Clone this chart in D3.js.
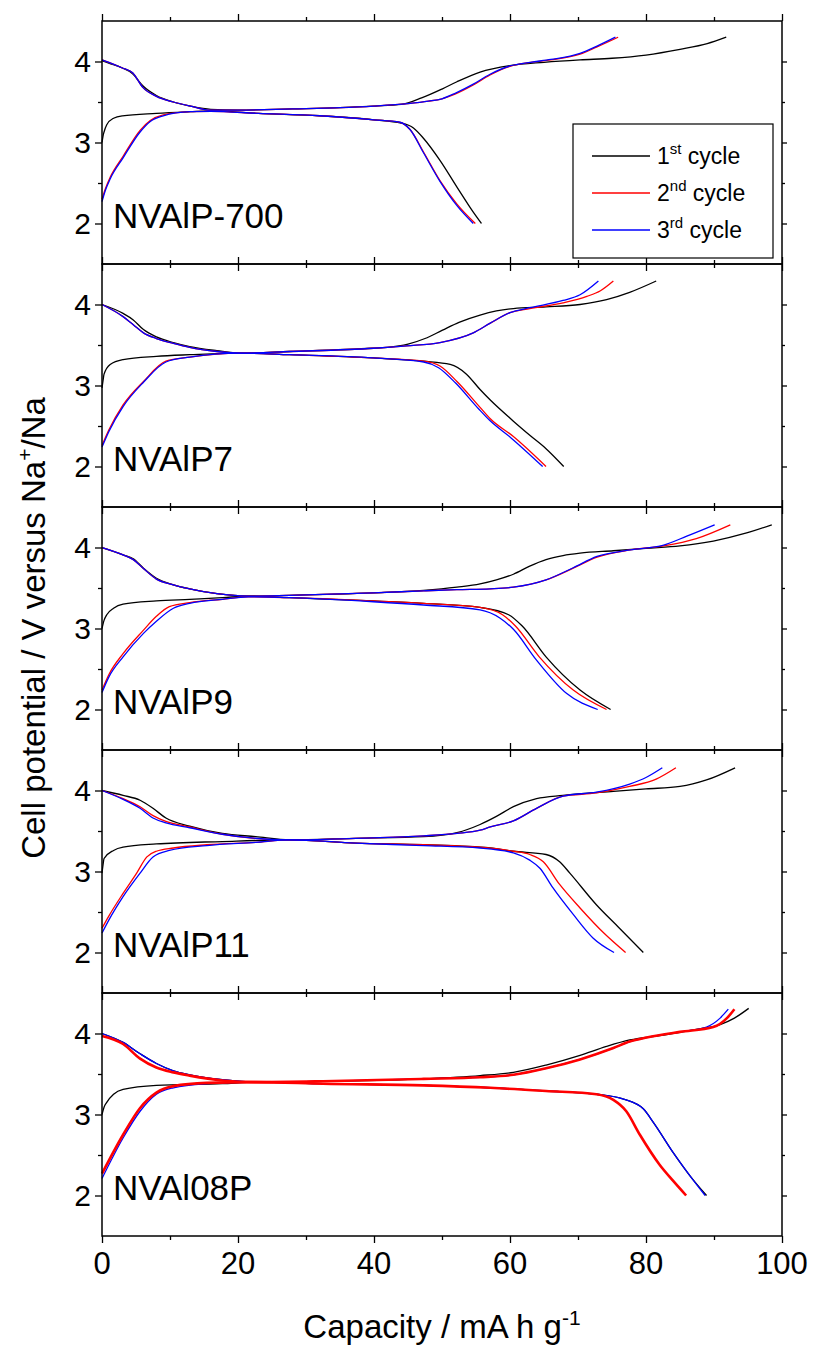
<!DOCTYPE html>
<html><head><meta charset="utf-8">
<script src="https://cdn.jsdelivr.net/npm/d3@7"></script>
<style>body{margin:0;background:#fff}svg{display:block}text{font-family:"Liberation Sans",Arial,sans-serif;fill:#000}</style>
</head><body><svg id="c" width="816" height="1347"></svg>
<script>
// ---------- data ----------
const panelNames = ["NVAlP-700","NVAlP7","NVAlP9","NVAlP11","NVAl08P"];
const cycleLabels = [["1","st"],["2","nd"],["3","rd"]];
const cycleColors = ["#000000","#ff0000","#0000ff"];
const xTicks = [0,20,40,60,80,100];
const xMinor = [10,30,50,70,90];
const yTicks = [2,3,4];
const yMinor = [2.5,3.5];

// NVAlP-700
const p1_c1_charge = [[0,4.01],[1,3.98],[3,3.92],[4.5,3.85],[6,3.70],[8,3.58],[10.5,3.50],[13,3.45],[16,3.41],[20,3.40],[28,3.415],[35,3.43],[40,3.45],[44,3.47],[47,3.55],[50,3.66],[52.2,3.75],[55.6,3.87],[60,3.95],[65,3.99],[70.3,4.02],[75,4.04],[80,4.08],[85,4.15],[89,4.22],[91.8,4.30]];
const p1_c2_charge = [[0,4.02],[1,3.99],[3,3.92],[4.5,3.86],[6,3.68],[8,3.57],[10.5,3.50],[13,3.45],[16,3.40],[20,3.40],[28,3.415],[35,3.43],[40,3.45],[45,3.48],[48,3.51],[50,3.54],[52,3.60],[54.6,3.71],[57,3.83],[60,3.94],[63,3.99],[66,4.02],[70.3,4.09],[72.8,4.18],[75.9,4.30]];
const p1_c3_charge = [[0,4.02],[1,3.99],[3,3.92],[4.5,3.86],[6,3.68],[8,3.57],[10.5,3.50],[13,3.45],[16,3.40],[20,3.40],[28,3.415],[35,3.43],[40,3.45],[45,3.48],[48,3.51],[50,3.54],[52,3.61],[54.6,3.72],[57,3.84],[60,3.945],[63,3.99],[66,4.025],[70.3,4.10],[72.8,4.19],[75.5,4.30]];
const p1_c1_discharge = [[0,3.0],[0.15,3.08],[0.3,3.13],[0.7,3.22],[1.7,3.30],[3,3.33],[8,3.36],[13,3.38],[16,3.39],[23,3.36],[32,3.33],[40,3.28],[44,3.24],[45.8,3.18],[47.3,3.05],[49.7,2.78],[52.2,2.45],[54.6,2.14],[55.8,2.0]];
const p1_c2_discharge = [[0,2.30],[0.5,2.43],[1.2,2.57],[3.1,2.83],[5.6,3.15],[7.1,3.27],[9,3.34],[13,3.38],[16,3.385],[23,3.36],[32,3.33],[40,3.28],[43.8,3.25],[45.3,3.16],[47.3,2.88],[49.7,2.53],[52.2,2.24],[54.9,2.0]];
const p1_c3_discharge = [[0,2.27],[0.5,2.41],[1.2,2.55],[3.1,2.81],[5.6,3.13],[7.1,3.26],[9,3.33],[13,3.38],[16,3.385],[23,3.36],[32,3.33],[40,3.28],[43.8,3.25],[45.3,3.16],[47.3,2.87],[49.7,2.52],[52.2,2.22],[54.6,2.0]];

// NVAlP7
const p2_c1_charge = [[0,4.0],[3.1,3.89],[4.6,3.81],[6.1,3.69],[8,3.60],[10.5,3.53],[12.9,3.48],[16.9,3.43],[20.3,3.40],[27.6,3.42],[39.9,3.46],[42,3.47],[45,3.51],[47.5,3.58],[50,3.68],[52.5,3.78],[55.6,3.87],[58,3.92],[60.5,3.95],[65.3,3.97],[70.3,4.0],[74.2,4.06],[77.6,4.15],[81.5,4.29]];
const p2_c2_charge = [[0,4.0],[3.1,3.85],[4.6,3.75],[6.1,3.65],[8,3.58],[10.5,3.52],[12.9,3.47],[16.9,3.42],[20.3,3.40],[27.6,3.42],[39.9,3.46],[44.8,3.49],[49.7,3.53],[54.6,3.65],[57.1,3.77],[60,3.90],[62.9,3.95],[67.8,4.02],[71.3,4.10],[73.3,4.17],[75.2,4.29]];
const p2_c3_charge = [[0,4.0],[3.1,3.85],[4.6,3.75],[6.1,3.65],[8,3.58],[10.5,3.52],[12.9,3.47],[16.9,3.42],[20.3,3.40],[27.6,3.42],[39.9,3.46],[44.8,3.49],[49.7,3.53],[54.6,3.65],[57.1,3.77],[60,3.90],[62.9,3.96],[67.8,4.05],[70.3,4.12],[73.0,4.29]];
const p2_c1_discharge = [[0,2.97],[0.15,3.06],[0.3,3.14],[1.2,3.26],[3.1,3.32],[8,3.36],[12.9,3.38],[20.3,3.40],[27.6,3.38],[39.9,3.34],[47.3,3.30],[51.2,3.26],[53.6,3.14],[55.6,2.95],[57.1,2.82],[60.5,2.56],[63,2.38],[65.3,2.22],[67.9,2.0]];
const p2_c2_discharge = [[0,2.26],[1,2.45],[3.1,2.76],[6.1,3.05],[9.4,3.30],[12.9,3.35],[20.3,3.40],[27.6,3.38],[39.9,3.34],[47.3,3.30],[49.7,3.24],[52.2,3.05],[55.6,2.73],[57.1,2.59],[60.5,2.37],[65.3,2.0]];
const p2_c3_discharge = [[0,2.24],[1,2.43],[3.1,2.74],[6.1,3.04],[9.4,3.29],[12.9,3.35],[20.3,3.40],[27.6,3.38],[39.9,3.34],[47.3,3.29],[49.5,3.22],[52,3.03],[55.4,2.71],[57,2.57],[60.2,2.35],[64.8,2.0]];

// NVAlP9
const p3_c1_charge = [[0,4.0],[3.1,3.91],[4.6,3.86],[6.1,3.745],[8,3.62],[10.5,3.54],[12.9,3.49],[16.9,3.43],[21.5,3.40],[27.6,3.41],[39.9,3.44],[47.3,3.47],[52.2,3.51],[55.6,3.55],[58,3.60],[60.5,3.67],[62.9,3.77],[65.3,3.85],[67.8,3.90],[70.3,3.93],[75.2,3.96],[80,3.99],[85,4.02],[89.9,4.08],[94.8,4.18],[98.5,4.28]];
const p3_c2_charge = [[0,4.0],[3.1,3.91],[4.6,3.85],[6.1,3.74],[8,3.61],[10.5,3.54],[12.9,3.49],[16.9,3.43],[21.5,3.40],[27.6,3.41],[39.9,3.44],[47.3,3.465],[52.2,3.48],[57.1,3.49],[60.5,3.51],[65.3,3.60],[69.3,3.745],[72.8,3.88],[77.7,3.97],[82.6,4.02],[87.4,4.11],[92.4,4.28]];
const p3_c3_charge = [[0,4.0],[3.1,3.91],[4.6,3.85],[6.1,3.74],[8,3.61],[10.5,3.54],[12.9,3.49],[16.9,3.43],[21.5,3.40],[27.6,3.41],[39.9,3.44],[47.3,3.465],[52.2,3.48],[57.1,3.49],[60.5,3.51],[65.3,3.60],[69.3,3.75],[72.8,3.89],[77.7,3.97],[82.6,4.03],[86,4.14],[90.1,4.28]];
const p3_c1_discharge = [[0,3.0],[0.3,3.10],[0.7,3.17],[1.7,3.25],[3.1,3.30],[8,3.34],[12.9,3.36],[17.7,3.38],[21.5,3.40],[27.6,3.38],[39.9,3.34],[47.3,3.31],[55.6,3.26],[59.8,3.17],[61.8,3.03],[65.3,2.65],[70.3,2.24],[74.8,2.0]];
const p3_c2_discharge = [[0,2.24],[1,2.43],[3.1,2.69],[6.1,2.98],[8,3.15],[9.9,3.27],[12.9,3.32],[17.7,3.36],[21.5,3.39],[27.6,3.38],[39.9,3.34],[47.3,3.31],[55.6,3.26],[58.9,3.17],[60.8,3.03],[64.3,2.65],[69.3,2.24],[74.2,2.0]];
const p3_c3_discharge = [[0,2.21],[1,2.40],[3.1,2.65],[6.1,2.94],[8,3.09],[10.5,3.25],[12.9,3.31],[17.7,3.36],[21.5,3.39],[27.6,3.38],[39.9,3.33],[47.3,3.29],[55.6,3.23],[58.5,3.13],[60.5,2.99],[63.9,2.61],[68.3,2.20],[72.9,2.0]];

// NVAlP11
const p4_c1_charge = [[0,4.0],[3.1,3.94],[5.6,3.88],[7.5,3.78],[9.4,3.66],[12.9,3.56],[17.7,3.47],[22.6,3.43],[27.6,3.39],[37.3,3.41],[47.3,3.43],[52.2,3.48],[55.6,3.58],[58,3.68],[60.5,3.80],[63.9,3.90],[67.8,3.94],[75.2,3.99],[80,4.02],[85,4.05],[88.9,4.13],[93.1,4.28]];
const p4_c2_charge = [[0,4.0],[3.1,3.90],[5.6,3.80],[7.5,3.69],[9.4,3.62],[12.9,3.55],[17.7,3.46],[27.6,3.39],[37.3,3.41],[47.3,3.44],[52.2,3.47],[55.6,3.51],[57.1,3.55],[60.5,3.625],[63.9,3.78],[67.8,3.93],[72.7,3.97],[77.6,4.05],[81.5,4.14],[84.4,4.28]];
const p4_c3_charge = [[0,4.0],[3.1,3.89],[5.6,3.78],[7.5,3.66],[9.4,3.60],[12.9,3.54],[17.7,3.46],[27.6,3.39],[37.3,3.41],[47.3,3.44],[52.2,3.47],[55.6,3.51],[57.1,3.55],[60.5,3.625],[63.9,3.78],[67.8,3.93],[72.7,3.98],[77.6,4.08],[80,4.16],[82.4,4.28]];
const p4_c1_discharge = [[0,2.98],[0.15,3.08],[0.3,3.16],[1.7,3.26],[3.1,3.30],[8,3.34],[17.7,3.37],[27.6,3.39],[37.3,3.35],[47.3,3.33],[57.1,3.29],[60.5,3.25],[65.3,3.21],[67.3,3.12],[68.8,2.98],[72.7,2.59],[76.1,2.30],[79.6,2.0]];
const p4_c2_discharge = [[0,2.30],[1,2.45],[3.1,2.73],[5.1,2.98],[6.6,3.18],[8,3.25],[10.5,3.29],[15.4,3.33],[22.6,3.36],[27.6,3.39],[37.3,3.35],[47.3,3.33],[55.6,3.30],[60.5,3.25],[62.9,3.21],[64.9,3.12],[67.3,2.84],[70.3,2.55],[73.8,2.24],[77,2.0]];
const p4_c3_discharge = [[0,2.24],[1,2.40],[3.1,2.69],[5.6,2.98],[7.5,3.18],[9.9,3.26],[15.4,3.32],[22.6,3.36],[27.6,3.39],[37.3,3.35],[47.3,3.32],[55.6,3.29],[60.5,3.23],[62.9,3.14],[64.4,3.04],[66.3,2.80],[69.3,2.47],[72.2,2.18],[75.3,2.0]];

// NVAl08P
const p5_c1_charge = [[0,4.0],[3.1,3.89],[5.6,3.75],[8,3.63],[10.5,3.54],[12.9,3.49],[17.7,3.43],[22.6,3.40],[32.5,3.41],[47.3,3.44],[55.6,3.48],[60.5,3.52],[65.3,3.61],[70.3,3.73],[74.2,3.84],[77.6,3.92],[82.6,3.98],[87.4,4.05],[90.9,4.11],[93,4.19],[95.1,4.31]];
const p5_c2_charge = [[0,3.97],[3.1,3.87],[5.6,3.69],[8,3.58],[10.5,3.52],[12.9,3.48],[17.7,3.42],[22.6,3.40],[32.5,3.41],[47.3,3.44],[55.6,3.46],[60.5,3.49],[65.3,3.57],[70.3,3.68],[75.2,3.82],[77.6,3.90],[80.1,3.95],[85,4.02],[89.9,4.08],[91.9,4.19],[93,4.30]];
const p5_c3_charge = [[0,4.0],[3.1,3.89],[5.6,3.75],[8,3.63],[10.5,3.54],[12.9,3.49],[17.7,3.43],[22.6,3.40],[32.5,3.41],[47.3,3.44],[55.6,3.46],[60.5,3.49],[65.3,3.57],[70.3,3.68],[75.2,3.82],[77.6,3.90],[80.1,3.95],[85,4.02],[88.9,4.08],[90.9,4.19],[92.1,4.30]];
const p5_c1_discharge = [[0,3.0],[0.3,3.09],[0.7,3.15],[1.7,3.25],[3.1,3.31],[8,3.36],[17.7,3.38],[22.6,3.40],[32.5,3.38],[47.3,3.36],[57.1,3.33],[65.3,3.29],[72.7,3.25],[76.7,3.19],[79.6,3.07],[81.1,2.90],[84,2.53],[86.5,2.24],[88.9,2.0]];
const p5_c2_discharge = [[0,2.27],[3.1,2.75],[5.6,3.08],[8,3.27],[10.5,3.35],[15.4,3.39],[22.6,3.40],[32.5,3.38],[47.3,3.36],[57.1,3.33],[65.3,3.29],[72.7,3.25],[75.2,3.18],[77.1,3.04],[79.1,2.75],[82,2.38],[84,2.18],[85.9,2.0]];
const p5_c3_discharge = [[0,2.21],[3.1,2.71],[5.6,3.04],[8,3.25],[10.5,3.33],[15.4,3.38],[22.6,3.40],[32.5,3.38],[47.3,3.36],[57.1,3.33],[65.3,3.29],[72.7,3.25],[76.7,3.19],[79.6,3.07],[81.1,2.90],[84,2.53],[86.5,2.24],[88.7,2.0]];

const panelData = [
  [[p1_c1_charge,p1_c1_discharge],[p1_c2_charge,p1_c2_discharge],[p1_c3_charge,p1_c3_discharge]],
  [[p2_c1_charge,p2_c1_discharge],[p2_c2_charge,p2_c2_discharge],[p2_c3_charge,p2_c3_discharge]],
  [[p3_c1_charge,p3_c1_discharge],[p3_c2_charge,p3_c2_discharge],[p3_c3_charge,p3_c3_discharge]],
  [[p4_c1_charge,p4_c1_discharge],[p4_c2_charge,p4_c2_discharge],[p4_c3_charge,p4_c3_discharge]],
  [[p5_c1_charge,p5_c1_discharge],[p5_c2_charge,p5_c2_discharge],[p5_c3_charge,p5_c3_discharge]]
];

// ---------- layout ----------
const svg = d3.select("#c");
const L = 102, R = 782, top0 = 21, PH = 243;
const x = d3.scaleLinear().domain([0,100]).range([L,R]);
const line = d3.line().curve(d3.curveMonotoneX);

panelNames.forEach((name,i)=>{
  const t = top0 + i*PH;
  const y = d3.scaleLinear().domain([1.5,4.5]).range([t+PH,t]);
  line.x(d=>x(d[0])).y(d=>y(d[1]));
  const g = svg.append("g");
  const order = i===4 ? [0,2,1] : [0,1,2];
  order.forEach(c=>{
    panelData[i][c].forEach(seg=>{
      g.append("path").attr("d",line(seg)).attr("fill","none")
        .attr("stroke",cycleColors[c])
        .attr("stroke-width", (i===4 && c===1) ? 2.6 : 1.3);
    });
  });
  g.append("rect").attr("x",L).attr("y",t).attr("width",R-L).attr("height",PH)
    .attr("fill","none").attr("stroke","#000").attr("stroke-width",1.5);
  const mk = (axisFn, scale, vals, size, tr) => {
    const a = g.append("g").attr("transform",tr)
      .call(axisFn(scale).tickValues(vals).tickSize(size).tickSizeOuter(0).tickFormat(""));
    a.select(".domain").remove();
    a.selectAll("line").attr("stroke","#000").attr("stroke-width",1.3);
    return a;
  };
  mk(d3.axisLeft, y, yTicks, 7, `translate(${L},0)`);
  mk(d3.axisLeft, y, yMinor, 4, `translate(${L},0)`);
  mk(d3.axisRight, y, yTicks, 5, `translate(${R},0)`);
  mk(d3.axisRight, y, yMinor, 3, `translate(${R},0)`);
  mk(d3.axisTop, x, xTicks, 7, `translate(0,${t})`);
  mk(d3.axisTop, x, xMinor, 4, `translate(0,${t})`);
  mk(d3.axisBottom, x, xTicks, 7, `translate(0,${t+PH})`);
  mk(d3.axisBottom, x, xMinor, 4, `translate(0,${t+PH})`);
  yTicks.forEach(v=>{
    g.append("text").attr("x",L-11).attr("y",y(v)+10.5).attr("text-anchor","end")
      .attr("font-size",30).text(v);
  });
  g.append("text").attr("x",113).attr("y",y(2)+4).attr("font-size",35).text(name);
  if(i===panelNames.length-1){
    xTicks.forEach(v=>{
      g.append("text").attr("x",x(v)).attr("y",t+PH+38).attr("text-anchor","middle")
        .attr("font-size",31).text(v);
    });
  }
});

// legend
const lg = svg.append("g");
lg.append("rect").attr("x",573).attr("y",124).attr("width",200).attr("height",134)
  .attr("fill","#fff").attr("stroke","#000").attr("stroke-width",1.2);
cycleLabels.forEach((lab,k)=>{
  const cy = 156 + k*37;
  lg.append("line").attr("x1",592).attr("x2",650).attr("y1",cy).attr("y2",cy)
    .attr("stroke",cycleColors[k]).attr("stroke-width",1.3);
  const tx = lg.append("text").attr("x",657).attr("y",cy+8).attr("font-size",23);
  tx.append("tspan").text(lab[0]);
  tx.append("tspan").attr("font-size",15).attr("dy",-10).text(lab[1]);
  tx.append("tspan").attr("dy",10).text(" cycle");
});

// axis titles
const yt = svg.append("text").attr("transform","translate(45,628) rotate(-90)")
  .attr("text-anchor","middle").attr("font-size",33);
yt.append("tspan").text("Cell potential / V versus Na");
yt.append("tspan").attr("font-size",21).attr("dy",-13).text("+");
yt.append("tspan").attr("dy",13).text("/Na");

const xt = svg.append("text").attr("x",442).attr("y",1338).attr("text-anchor","middle").attr("font-size",33);
xt.append("tspan").text("Capacity / mA h g");
xt.append("tspan").attr("font-size",21).attr("dy",-13).text("-1");
</script></body></html>
